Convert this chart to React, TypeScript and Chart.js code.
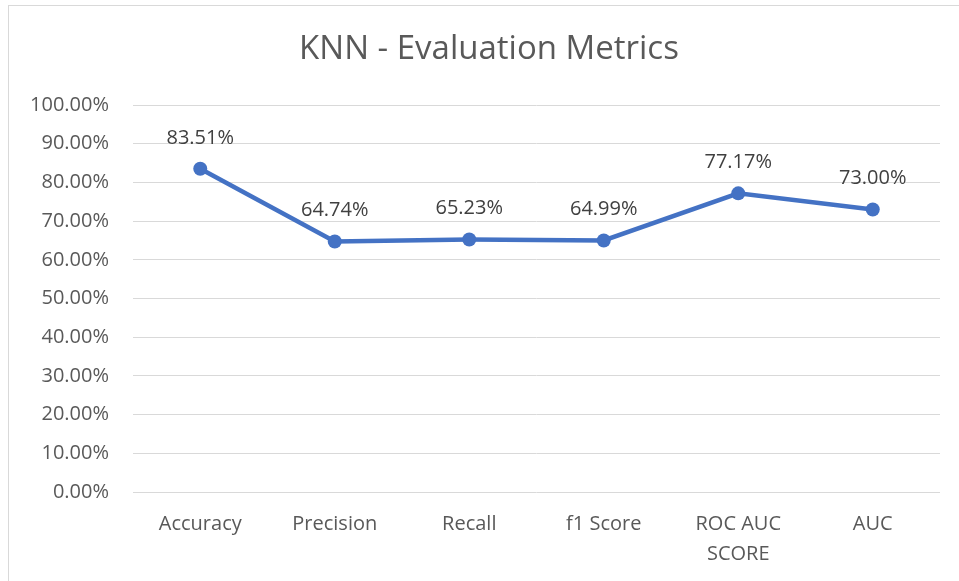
import React, { useEffect, useRef } from "react";
import { Chart, registerables } from "chart.js";

Chart.register(...registerables);

const title = "KNN - Evaluation Metrics";
const categories: (string | string[])[] = ["Accuracy", "Precision", "Recall", "f1 Score", ["ROC AUC", "SCORE"], "AUC"];
const values = [83.51, 64.74, 65.23, 64.99, 77.17, 73.0];
const yTicksMin = 0;
const yTicksMax = 100;
const yTicksStep = 10;

const FONT = "'Open Sans', 'Noto Sans', sans-serif";

const labelPlugin = {
  id: "pointLabels",
  afterDatasetsDraw(chart: any) {
    const ctx = chart.ctx;
    const meta = chart.getDatasetMeta(0);
    ctx.save();
    ctx.font = `20px ${FONT}`;
    ctx.fillStyle = "#404040";
    ctx.textAlign = "center";
    ctx.textBaseline = "middle";
    meta.data.forEach((pt: any, i: number) => {
      ctx.fillText(values[i].toFixed(2) + "%", pt.x, pt.y - 31);
    });
    ctx.restore();
  },
};

const titlePlugin = {
  id: "frameTitle",
  afterDraw(chart: any) {
    const ctx = chart.ctx;
    ctx.save();
    ctx.font = `33px ${FONT}`;
    ctx.fillStyle = "#595959";
    ctx.textAlign = "center";
    ctx.textBaseline = "middle";
    ctx.fillText(title, 489, 50);
    ctx.restore();
  },
};

export default function App() {
  const ref = useRef<HTMLCanvasElement>(null);
  useEffect(() => {
    const chart = new Chart(ref.current!, {
      type: "line",
      data: {
        labels: categories as any,
        datasets: [
          {
            data: values,
            borderColor: "#4472C4",
            backgroundColor: "#4472C4",
            borderWidth: 4.5,
            pointRadius: 7,
            pointBorderWidth: 0,
            pointBackgroundColor: "#4472C4",
            tension: 0,
          },
        ],
      },
      options: {
        animation: false,
        responsive: false,
        maintainAspectRatio: false,
        layout: { padding: { left: 0, right: 19, top: 105, bottom: 0 } },
        plugins: {
          legend: { display: false },
          tooltip: { enabled: false },
          title: { display: false },
        },
        scales: {
          x: {
            offset: true,
            grid: { display: false, drawTicks: false },
            border: { display: false },
            ticks: {
              color: "#595959",
              font: { family: FONT, size: 20, lineHeight: 1.5 },
              padding: 17,
              maxRotation: 0,
              autoSkip: false,
            },
            afterFit: (s: any) => {
              s.height = 89;
            },
          },
          y: {
            min: yTicksMin,
            max: yTicksMax,
            grid: { color: "#d9d9d9", lineWidth: 1, drawTicks: false },
            border: { display: false },
            ticks: {
              stepSize: yTicksStep,
              color: "#595959",
              font: { family: FONT, size: 20 },
              padding: 24,
              callback: (v: any) => Number(v).toFixed(2) + "%",
            },
            afterFit: (s: any) => {
              s.width = 133;
            },
          },
        },
      },
      plugins: [labelPlugin, titlePlugin],
    });
    return () => chart.destroy();
  }, []);
  return (
    <div style={{ position: "fixed", left: 0, top: 0, width: 959, height: 581, background: "#fff", overflow: "hidden" }}>
      <div style={{ position: "absolute", left: 8, top: 5, width: 1200, height: 1200, border: "1px solid #d9d9d9", boxSizing: "border-box" }} />
      <canvas ref={ref} width={959} height={581} style={{ position: "absolute", left: 0, top: 0, display: "block" }} />
    </div>
  );
}
